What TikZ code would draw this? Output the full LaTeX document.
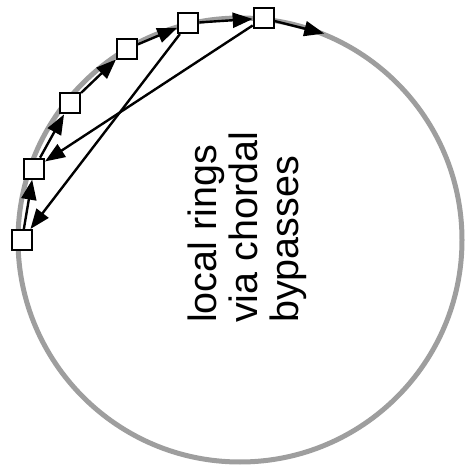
\documentclass[tikz,border=0pt]{standalone}
\usepackage{fontspec}
\setmainfont{Liberation Sans}
\usetikzlibrary{arrows.meta}

\begin{document}
\begin{tikzpicture}[x=1pt,y=1pt,>={Triangle[length=20pt,width=15pt]},
		station/.style={draw,fill=white,line width=2pt,minimum size=20pt,inner sep=0pt},
		hop/.style={->,line width=2.4pt},
		ring/.style={draw=black!38,line width=5pt}]
		
		% Frame
		\useasboundingbox (-240,-230) rectangle (226,240);
		
		% Ring
		\draw[ring] (0,0) circle (222);
		
		% Stations
		\node[station] (s1) at (180:218) {};
		\node[station] (s2) at (160.9:218) {};
		\node[station] (s3) at (141.2:218) {};
		\node[station] (s4) at (120.6:222) {};
		\node[station] (s5) at (103.4:223) {};
		\node[station] (s6) at (83.9:223) {};
		\coordinate (out) at (67.8:223);
		
		% Hops along the ring
		\draw[hop] (s1)--(s2);
		\draw[hop] (s2)--(s3);
		\draw[hop] (s3)--(s4);
		\draw[hop] (s4)--(s5);
		\draw[hop] (s5)--(s6);
		\draw[hop] (s6)--(out);
		
		% Chordal bypasses
		\draw[hop] (s5)--(s1);
		\draw[hop] (s6)--(s2);
		
		% Label
		\node[rotate=90,anchor=north west,align=left,inner sep=0pt,
		font=\fontsize{39.5}{41}\selectfont] (lbl) at (-52,-83)
		{local rings\\via chordal\\bypasses};
		
	\end{tikzpicture}
\end{document}
